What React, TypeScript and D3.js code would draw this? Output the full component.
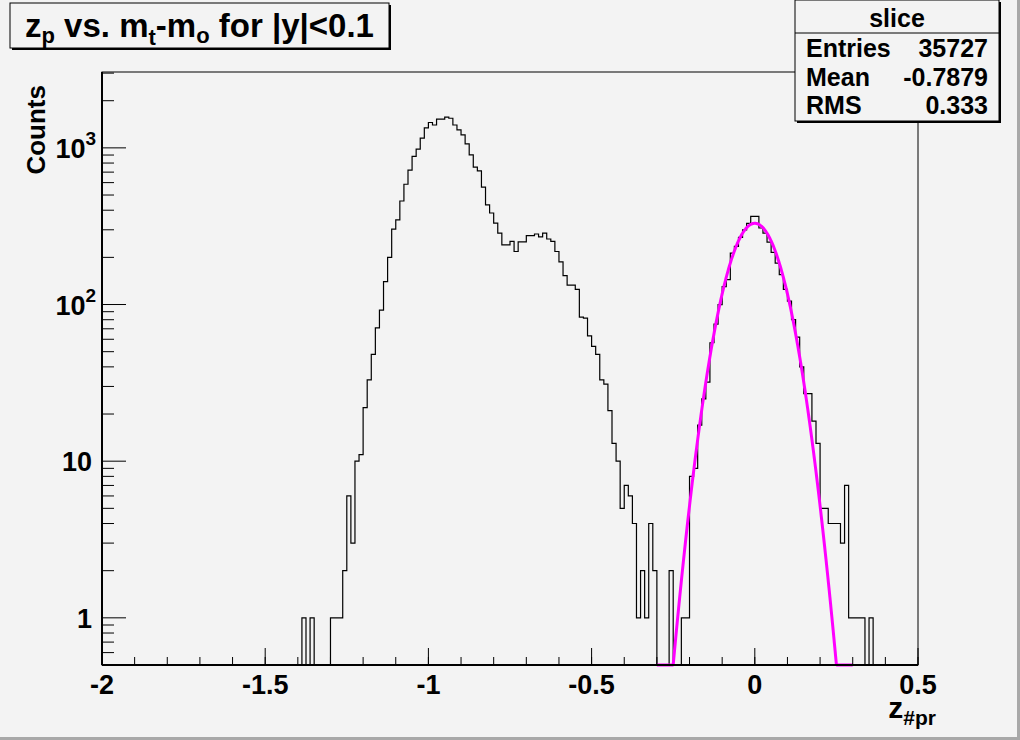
import React from "react";
import * as d3 from "d3";

const W = 1020;
const H = 740;

// histogram "slice": 200 bins from -2 to 0.5, contents of bins 49..188 (all others empty)
const xLow = -2;
const xHigh = 0.5;
const nBins = 200;
const firstBin = 49;
const counts = [
  1, 0, 1, 0, 0, 0, 0, 1, 1, 1, 2, 6, 3, 10, 11, 22, 33, 48, 71, 92,
  140, 200, 303, 347, 458, 586, 721, 883, 982, 1153, 1341, 1452, 1400, 1524, 1524, 1570, 1545, 1400, 1302, 1210,
  1060, 902, 754, 714, 562, 432, 384, 331, 286, 240, 240, 253, 218, 251, 251, 275, 275, 282, 270, 286,
  262, 253, 218, 187, 153, 133, 133, 125, 83, 82, 63, 54, 48, 33, 31, 21, 13, 10, 5, 7,
  6, 4, 1, 2, 1, 4, 2, 0, 0, 0, 2, 0, 0, 1, 1, 8, 9, 17, 25, 32,
  57, 75, 100, 130, 144, 213, 235, 268, 300, 330, 365, 365, 308, 286, 250, 215, 184, 155, 125, 105,
  80, 62, 40, 27, 27, 18, 13, 5, 5, 4, 4, 4, 3, 7, 1, 1, 1, 1, 0, 1,
];

// gaus fit shown in magenta
const fitConstant = 330;
const fitMean = 0.0;
const fitSigma = 0.0694;
const fitRange = [-0.3, 0.3];

const xTickLabels = ["-2", "-1.5", "-1", "-0.5", "0", "0.5"];
const statsRows = [
  ["Entries", "35727"],
  ["Mean", "-0.7879"],
  ["RMS", "0.333"],
];

const FONT = "'Liberation Sans', Arial, Helvetica, sans-serif";

export default function App() {
  const frame = { left: 102, right: 918, top: 72, bottom: 665 };
  const x = d3.scaleLinear().domain([xLow, xHigh]).range([frame.left, frame.right]);
  const y = d3.scaleLog().domain([0.5, 3050]).range([frame.bottom, frame.top]);
  const yMin = y.domain()[0];

  const binW = (xHigh - xLow) / nBins;
  const content = (i: number) => {
    const k = i - firstBin;
    return k >= 0 && k < counts.length ? counts[k] : 0;
  };

  // step outline of the histogram, empty bins sit on the frame bottom
  const pts: [number, number][] = [];
  for (let i = 0; i < nBins; i++) {
    const v = Math.max(content(i), yMin);
    const x0 = xLow + i * binW;
    pts.push([x(x0), y(v)]);
    pts.push([x(x0 + binW), y(v)]);
  }
  const histPath = d3.line()(pts);

  const fitPts: [number, number][] = d3
    .range(fitRange[0], fitRange[1] + 1e-9, 0.002)
    .map((t) => {
      const v = fitConstant * Math.exp(-0.5 * ((t - fitMean) / fitSigma) ** 2);
      return [x(t), y(Math.max(v, yMin))];
    });
  const fitPath = d3.line()(fitPts);

  const xMajor = x.ticks(5);
  const xMinor = x.ticks(25);
  const yTicks = y.ticks();
  const isMajor = (v: number) => Math.abs(Math.log10(v) - Math.round(Math.log10(v))) < 1e-9;

  const bg = "#f3f3f3";

  return (
    <div style={{ position: "absolute", left: 0, top: 0 }}>
      <svg width={W} height={H} style={{ display: "block" }} fontFamily={FONT}>
        <rect x={0} y={0} width={W} height={H} fill={bg} />
        {/* canvas bevel */}
        <rect x={W - 3} y={0} width={3} height={H} fill="#a8a8a8" />
        <rect x={0} y={H - 3} width={W} height={3} fill="#a8a8a8" />

        {/* frame */}
        <rect
          x={frame.left}
          y={frame.top}
          width={frame.right - frame.left}
          height={frame.bottom - frame.top}
          fill="none"
          stroke="#000"
          strokeWidth={1}
        />

        {/* histogram */}
        <path d={histPath ?? ""} fill="none" stroke="#000" strokeWidth={1.2} />
        {/* fit */}
        <path d={fitPath ?? ""} fill="none" stroke="#ff00ff" strokeWidth={3} strokeLinejoin="round" />

        {/* x axis */}
        <line x1={frame.left} x2={frame.right} y1={frame.bottom} y2={frame.bottom} stroke="#000" strokeWidth={2} />
        {xMinor.map((t) => (
          <line key={"xm" + t} x1={x(t)} x2={x(t)} y1={frame.bottom} y2={frame.bottom - 8} stroke="#000" strokeWidth={1} />
        ))}
        {xMajor.map((t, i) => (
          <g key={"xM" + t}>
            <line x1={x(t)} x2={x(t)} y1={frame.bottom} y2={frame.bottom - 17} stroke="#000" strokeWidth={1} />
            <text x={x(t)} y={694} textAnchor="middle" fontSize={27} fontWeight="bold">
              {xTickLabels[i]}
            </text>
          </g>
        ))}
        <text x={936} y={718} textAnchor="end" fontSize={30} fontWeight="bold">
          z<tspan fontSize={21} dy={7}>#pr</tspan>
        </text>

        {/* y axis */}
        <line x1={frame.left} x2={frame.left} y1={frame.top} y2={frame.bottom} stroke="#000" strokeWidth={2} />
        {yTicks.map((t) => (
          <line
            key={"y" + t}
            x1={frame.left}
            x2={frame.left + (isMajor(t) ? 24 : 12)}
            y1={y(t)}
            y2={y(t)}
            stroke="#000"
            strokeWidth={1}
          />
        ))}
        {yTicks.filter(isMajor).map((t) => {
          const p = Math.round(Math.log10(t));
          return p >= 2 ? (
            <text key={"yl" + t} x={96} y={y(t) + 10} textAnchor="end" fontSize={27} fontWeight="bold">
              10<tspan fontSize={19} dy={-13}>{p}</tspan>
            </text>
          ) : (
            <text key={"yl" + t} x={92} y={y(t) + 10} textAnchor="end" fontSize={27} fontWeight="bold">
              {p === 1 ? "10" : "1"}
            </text>
          );
        })}
        <text transform="translate(45,85) rotate(-90)" textAnchor="end" fontSize={26} fontWeight="bold">
          Counts
        </text>

        {/* title pave */}
        <rect x={12} y={5} width={379} height={45} fill="#000" />
        <rect x={10} y={3} width={379} height={45} fill={bg} stroke="#000" strokeWidth={1} />
        <text x={25} y={37} fontSize={33} fontWeight="bold">
          z<tspan fontSize={22} dy={6}>p</tspan>
          <tspan dy={-6}> vs. m</tspan>
          <tspan fontSize={22} dy={8}>t</tspan>
          <tspan dy={-8}>-m</tspan>
          <tspan fontSize={22} dy={6}>o</tspan>
          <tspan dy={-6}> for |y|&lt;0.1</tspan>
        </text>

        {/* stats box */}
        <rect x={797} y={2} width={204} height={121} fill="#000" />
        <rect x={795} y={0} width={204} height={121} fill={bg} stroke="#000" strokeWidth={1} />
        <line x1={795} x2={999} y1={33} y2={33} stroke="#000" strokeWidth={1} />
        <text x={897} y={27} textAnchor="middle" fontSize={25} fontWeight="bold">
          slice
        </text>
        {statsRows.map((r, i) => (
          <g key={r[0]}>
            <text x={806} y={57 + i * 28.5} fontSize={25} fontWeight="bold">
              {r[0]}
            </text>
            <text x={988} y={57 + i * 28.5} textAnchor="end" fontSize={25} fontWeight="bold">
              {r[1]}
            </text>
          </g>
        ))}
      </svg>
    </div>
  );
}
